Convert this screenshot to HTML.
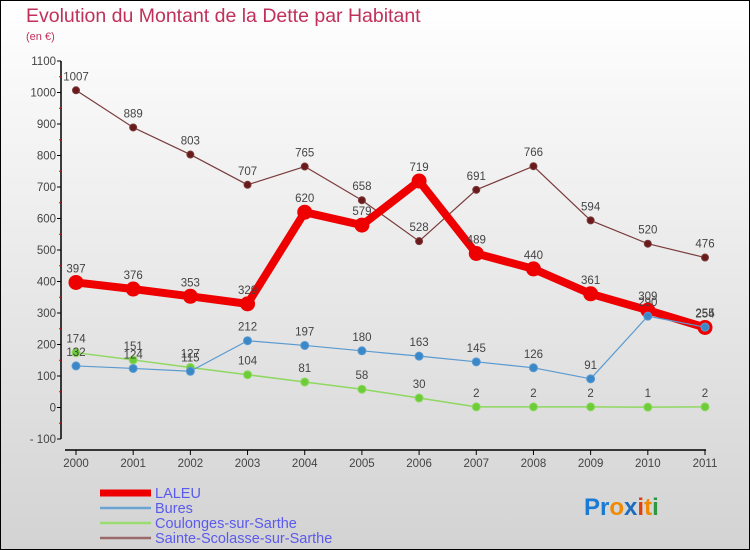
<!DOCTYPE html>
<html><head><meta charset="utf-8"><style>
html,body{margin:0;padding:0}
body{width:750px;height:550px;overflow:hidden;font-family:"Liberation Sans",sans-serif}
#wrap{position:absolute;left:0;top:0;width:748px;height:548px;border:1px solid #000;background:linear-gradient(#fff,#f6f6f6 20%,#d3d3d3)}
svg{position:absolute;left:0;top:0}
</style></head><body>
<div id="wrap"></div>
<svg id="c" width="750" height="550">
<text x="26" y="22" font-size="19.5" fill="#c0305a">Evolution du Montant de la Dette par Habitant</text>
<text x="26" y="40" font-size="11" fill="#c0305a">(en €)</text>
<g id="axes"></g><g id="series"></g><g id="legend"></g>
<text x="584" y="515" font-size="24" font-weight="bold"><tspan fill="#1a7ad4">Pr</tspan><tspan fill="#f08a00">o</tspan><tspan fill="#1a6cc0">x</tspan><tspan fill="#e04010">i</tspan><tspan fill="#f08a00">t</tspan><tspan fill="#2a9a40">i</tspan></text>
</svg>
<script>
const years=[2000,2001,2002,2003,2004,2005,2006,2007,2008,2009,2010,2011];
const yTicks=[-100,0,100,200,300,400,500,600,700,800,900,1000,1100];
const laleu=[397,376,353,329,620,579,719,489,440,361,309,254];
const bures=[132,124,115,212,197,180,163,145,126,91,290,255];
const coulonges=[174,151,127,104,81,58,30,2,2,2,1,2];
const sainte=[1007,889,803,707,765,658,528,691,766,594,520,476];
const seriesNames=["LALEU","Bures","Coulonges-sur-Sarthe","Sainte-Scolasse-sur-Sarthe"];
const NS="http://www.w3.org/2000/svg";
const xs=i=>76+i*(705-76)/11;
const ys=v=>407.5-v*0.315;
function mk(p,t,a){const e=document.createElementNS(NS,t);for(const k in a)e.setAttribute(k,a[k]);p.appendChild(e);return e;}
const ax=document.getElementById('axes');
let yl=mk(ax,'line',{x1:61,y1:ys(1100),x2:61,y2:ys(-100),stroke:'#000','stroke-width':1.5});


yTicks.forEach(v=>{
 mk(ax,'line',{x1:57,x2:61,y1:ys(v),y2:ys(v),stroke:'#000'});
 if(v<1100) mk(ax,'line',{x1:59,x2:61,y1:ys(v+50),y2:ys(v+50),stroke:'#e00'});
 const t=mk(ax,'text',{x:56,y:ys(v)+4,'text-anchor':'end','font-size':11.5,fill:'#444'});
 t.textContent=v<0?'- '+(-v):v;
 
 
});
let xl=mk(ax,'line',{x1:65,y1:450,x2:706,y2:450,stroke:'#000','stroke-width':1.5});


years.forEach((y,i)=>{
 mk(ax,'line',{x1:xs(i),x2:xs(i),y1:450,y2:455,stroke:'#000'});
 const t=mk(ax,'text',{x:xs(i),y:467,'text-anchor':'middle','font-size':11.5,fill:'#444'});
 t.textContent=y;
 
 
});
const sg=document.getElementById('series');
function draw(data,color,w,r,name,dot){
 const g=mk(sg,'g',{});
 
 
 mk(g,'polyline',{points:data.map((v,i)=>xs(i)+','+ys(v)).join(' '),fill:'none',stroke:color,'stroke-width':w,'stroke-linejoin':'round'});
 data.forEach((v,i)=>{
  const c=mk(g,'circle',{cx:xs(i),cy:ys(v),r:r,fill:dot,stroke:color==dot?'none':color});
  
  
  const t=mk(g,'text',{x:xs(i),y:ys(v)-10,'text-anchor':'middle','font-size':11.5,fill:'#444'});
  t.textContent=v;
  
  
 });
}
draw(sainte,'#7a3a3a',1.2,3.5,'sainte-scolasse-series','#6a1a1a');
draw(coulonges,'#8fd860',1.5,4,'coulonges-series','#6ccc3a');
draw(laleu,'#ee0000',8,7.5,'laleu-series','#ee0000');
draw(bures,'#5a9ad0',1.2,4,'bures-series','#3a88c8');
const lg=document.getElementById('legend');
const lc=['#ee0000','#6aa4d4','#99dd70','#9a6a6a'];const lw=[7,2.5,2.5,2.5];
seriesNames.forEach((n,i)=>{
 const y=493+i*15;
 const e=mk(lg,'g',{});
 
 
 mk(e,'line',{x1:100,x2:151,y1:y,y2:y,stroke:lc[i],'stroke-width':lw[i]});
 const t=mk(e,'text',{x:155,y:y+5,'font-size':14.5,fill:'#5a5aee'});
 t.textContent=n;
});
</script>
</body></html>
